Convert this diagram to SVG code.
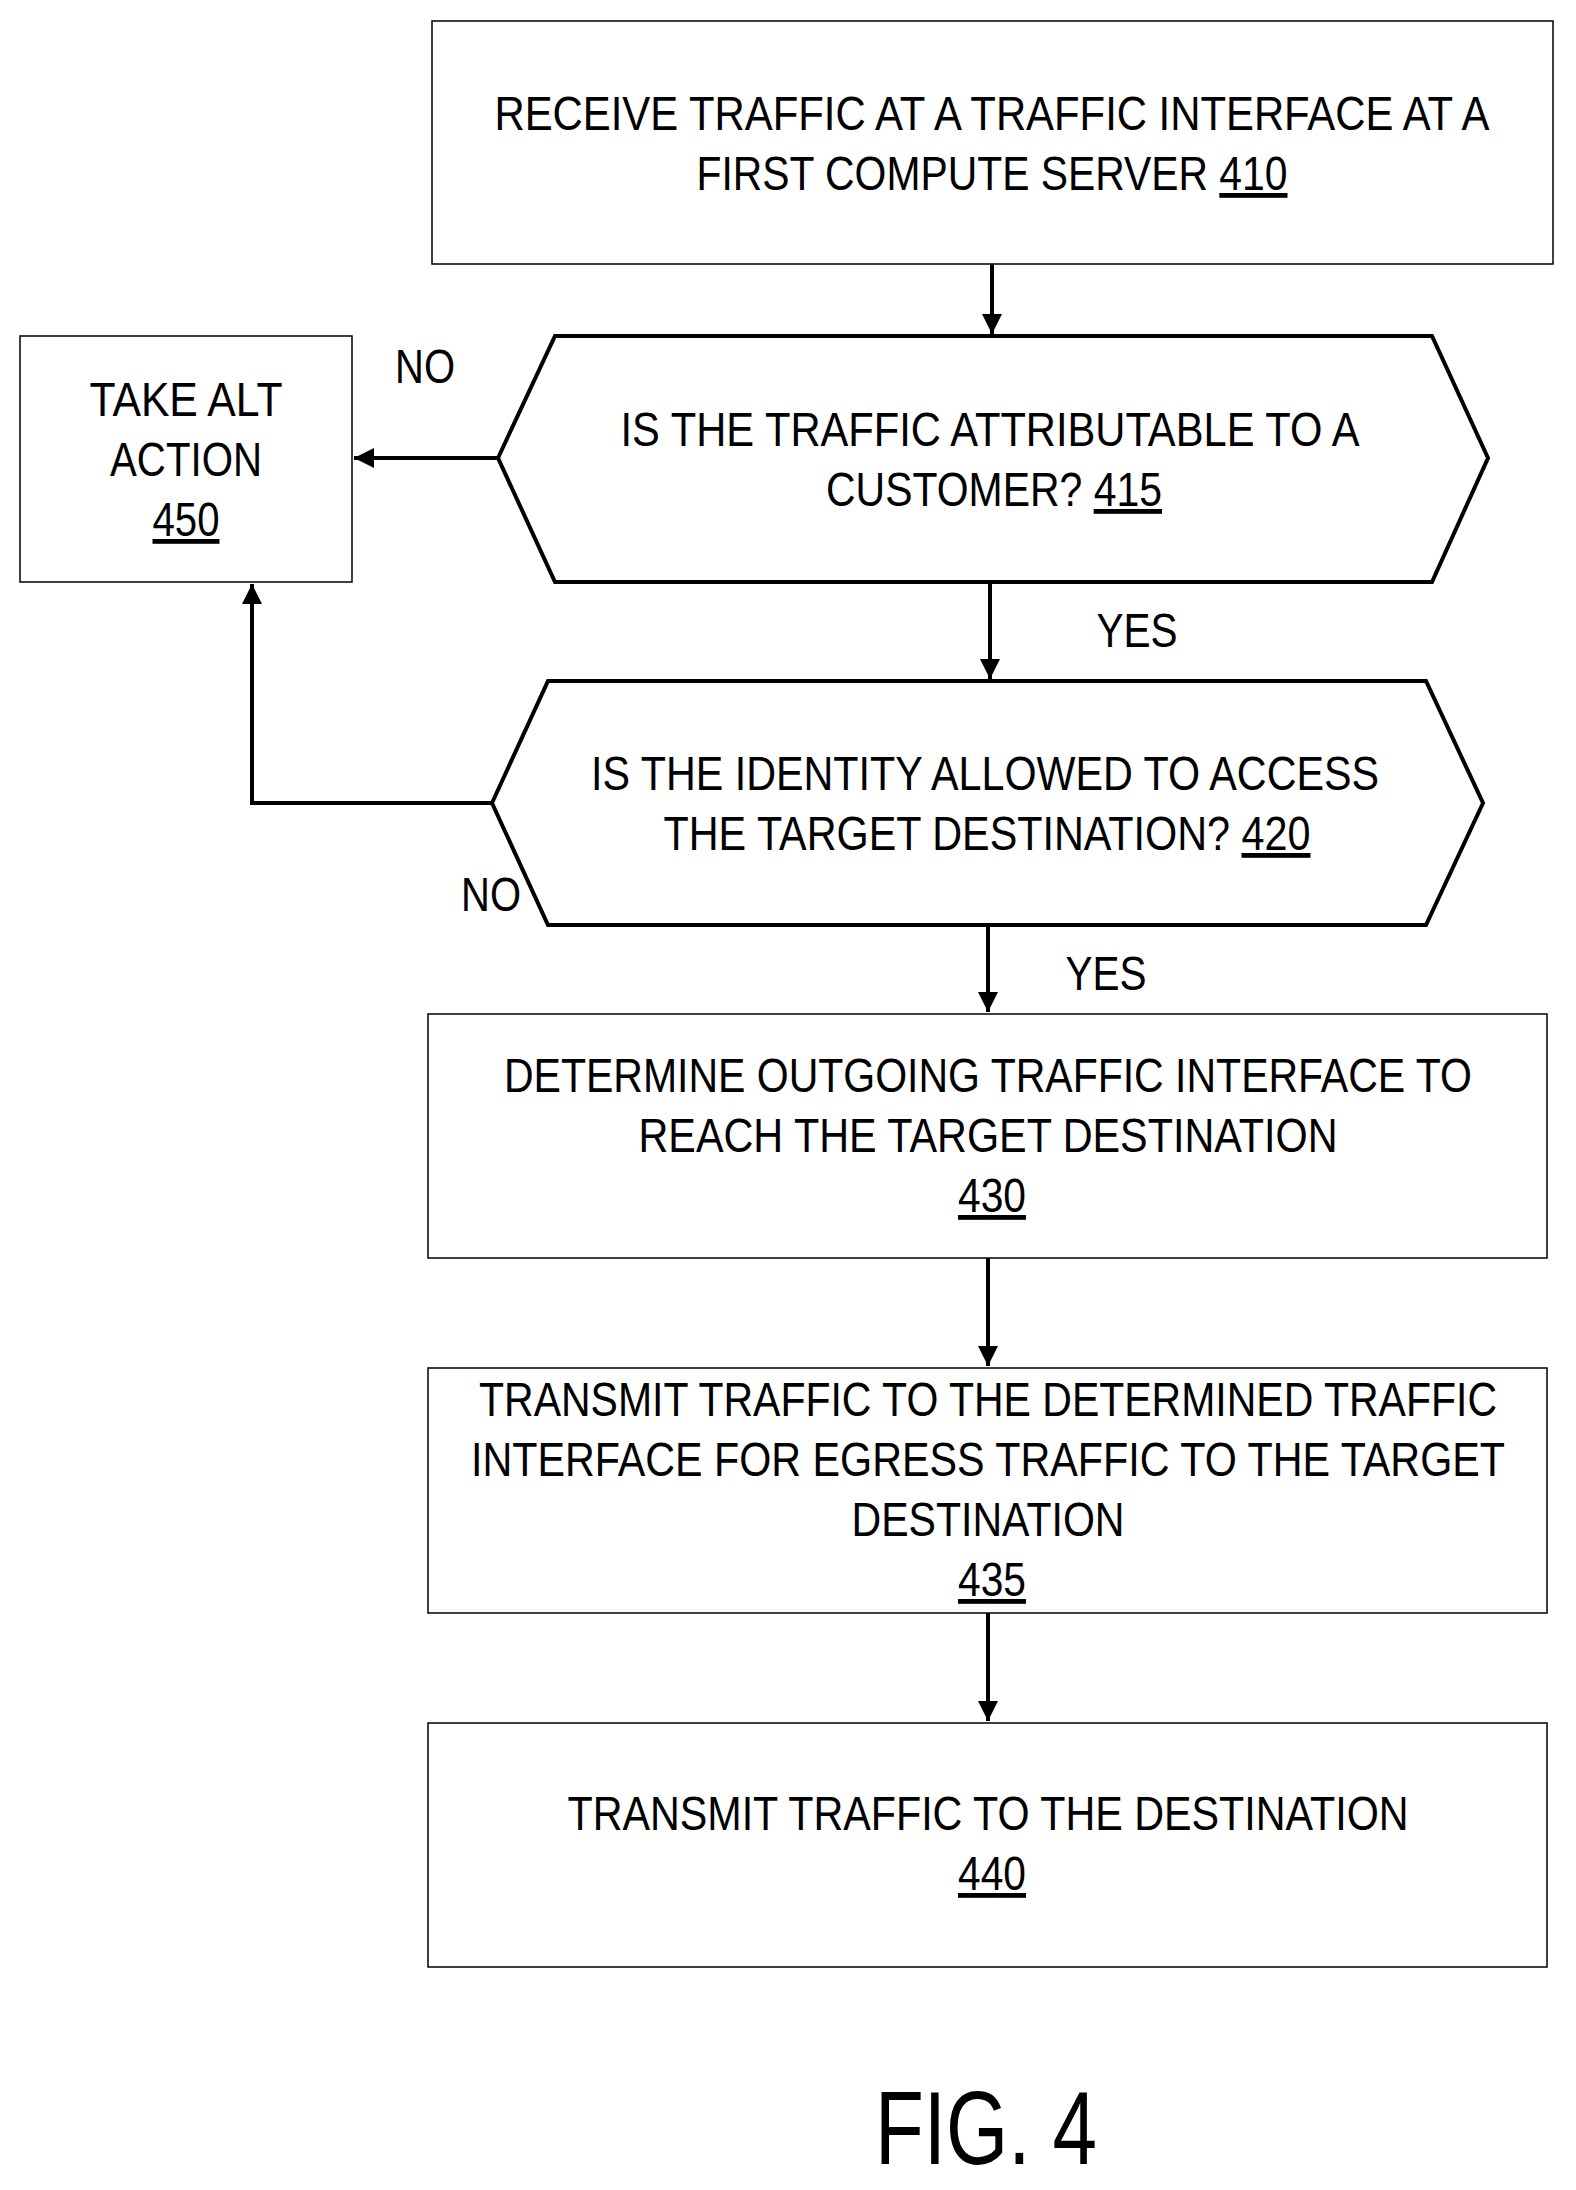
<svg xmlns="http://www.w3.org/2000/svg" width="1576" height="2190" viewBox="0 0 1576 2190">
<style>
.n{fill:#fff;stroke:#000;stroke-width:1.5}
.h{fill:#fff;stroke:#000;stroke-width:4;stroke-linejoin:miter}
text{font-family:"Liberation Sans Narrow","Liberation Sans",Arial,sans-serif;font-size:48px;fill:#000;text-anchor:middle}
.u{text-decoration:underline}
.c{fill:none;stroke:#000;stroke-width:4}
</style>
<defs><marker id="a" viewBox="0 0 10 10" refX="10" refY="5" markerWidth="6" markerHeight="6" markerUnits="userSpaceOnUse" orient="auto"><path d="M0,0L10,5L0,10z" fill="#000"/></marker>
<marker id="b" viewBox="0 0 10 10" refX="10" refY="5" markerWidth="5" markerHeight="5" orient="auto"><path d="M0,0L10,5L0,10z" fill="#000"/></marker></defs>
<g id="connectors">
<line class="c" x1="992" y1="264" x2="992" y2="334" marker-end="url(#b)"/>
<line class="c" x1="990" y1="584" x2="990" y2="679" marker-end="url(#b)"/>
<line class="c" x1="498" y1="458" x2="354" y2="458" marker-end="url(#b)"/>
<polyline class="c" points="492,803 252,803 252,584" marker-end="url(#b)"/>
<line class="c" x1="988" y1="927" x2="988" y2="1012" marker-end="url(#b)"/>
<line class="c" x1="988" y1="1258" x2="988" y2="1366" marker-end="url(#b)"/>
<line class="c" x1="988" y1="1613" x2="988" y2="1721" marker-end="url(#b)"/>
<text x="425" y="383" textLength="60" lengthAdjust="spacingAndGlyphs">NO</text>
<text x="1137" y="647" textLength="81" lengthAdjust="spacingAndGlyphs">YES</text>
<text x="491" y="911" textLength="60" lengthAdjust="spacingAndGlyphs">NO</text>
<text x="1106" y="990" textLength="81" lengthAdjust="spacingAndGlyphs">YES</text>
</g>
<g id="n410"><rect class="n" x="432" y="21" width="1121" height="243"/>
<text x="992" y="130" textLength="995" lengthAdjust="spacingAndGlyphs">RECEIVE TRAFFIC AT A TRAFFIC INTERFACE AT A</text>
<text x="992" y="190" textLength="591" lengthAdjust="spacingAndGlyphs">FIRST COMPUTE SERVER <tspan class="u">410</tspan></text></g>
<g id="n415"><polygon class="h" points="498,458 555,336 1432,336 1488,458 1432,582 555,582"/>
<text x="990" y="446" textLength="739" lengthAdjust="spacingAndGlyphs">IS THE TRAFFIC ATTRIBUTABLE TO A</text>
<text x="994" y="506" textLength="336" lengthAdjust="spacingAndGlyphs">CUSTOMER? <tspan class="u">415</tspan></text></g>
<g id="n420"><polygon class="h" points="492,803 548,681 1426,681 1483,803 1426,925 548,925"/>
<text x="985" y="790" textLength="788" lengthAdjust="spacingAndGlyphs">IS THE IDENTITY ALLOWED TO ACCESS</text>
<text x="987" y="850" textLength="647" lengthAdjust="spacingAndGlyphs">THE TARGET DESTINATION? <tspan class="u">420</tspan></text></g>
<g id="n450"><rect class="n" x="20" y="336" width="332" height="246"/>
<text x="186" y="416" textLength="193" lengthAdjust="spacingAndGlyphs">TAKE ALT</text>
<text x="186" y="476" textLength="152" lengthAdjust="spacingAndGlyphs">ACTION</text>
<text x="186" y="536" class="u" textLength="67" lengthAdjust="spacingAndGlyphs">450</text></g>
<g id="n430"><rect class="n" x="428" y="1014" width="1119" height="244"/>
<text x="988" y="1092" textLength="968" lengthAdjust="spacingAndGlyphs">DETERMINE OUTGOING TRAFFIC INTERFACE TO</text>
<text x="988" y="1152" textLength="699" lengthAdjust="spacingAndGlyphs">REACH THE TARGET DESTINATION</text>
<text x="992" y="1212" class="u" textLength="68" lengthAdjust="spacingAndGlyphs">430</text></g>
<g id="n435"><rect class="n" x="428" y="1368" width="1119" height="245"/>
<text x="988" y="1416" textLength="1018" lengthAdjust="spacingAndGlyphs">TRANSMIT TRAFFIC TO THE DETERMINED TRAFFIC</text>
<text x="988" y="1476" textLength="1034" lengthAdjust="spacingAndGlyphs">INTERFACE FOR EGRESS TRAFFIC TO THE TARGET</text>
<text x="988" y="1536" textLength="273" lengthAdjust="spacingAndGlyphs">DESTINATION</text>
<text x="992" y="1596" class="u" textLength="68" lengthAdjust="spacingAndGlyphs">435</text></g>
<g id="n440"><rect class="n" x="428" y="1723" width="1119" height="244"/>
<text x="988" y="1830" textLength="841" lengthAdjust="spacingAndGlyphs">TRANSMIT TRAFFIC TO THE DESTINATION</text>
<text x="992" y="1890" class="u" textLength="68" lengthAdjust="spacingAndGlyphs">440</text></g>
<text x="986" y="2164" style="font-size:104px" textLength="222" lengthAdjust="spacingAndGlyphs">FIG. 4</text>
</svg>
